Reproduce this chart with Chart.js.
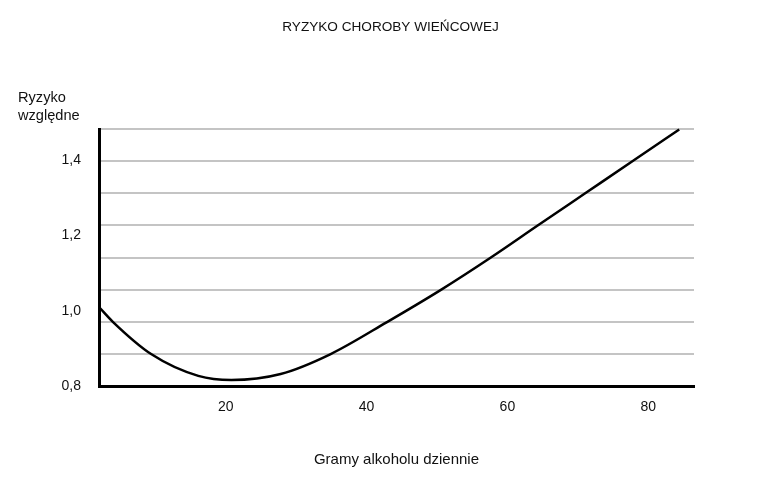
<!DOCTYPE html>
<html>
<head>
<meta charset="utf-8">
<script src="https://cdn.jsdelivr.net/npm/chart.js@4"></script>
<style>
html,body{margin:0;padding:0;background:#fff;}
#wrap{width:763px;height:486px;position:relative;}
</style>
</head>
<body>
<div id="wrap"><canvas id="c"></canvas></div>
<script>
// Data
const alcohol = [2, 4, 9.4, 16.1, 20.8, 27.8, 34.9, 42.9, 50.5, 57.6, 64.4, 71.1, 77.8, 84.4];
const risk    = [1.010, 0.970, 0.885, 0.827, 0.816, 0.832, 0.885, 0.970, 1.055, 1.141, 1.228, 1.313, 1.398, 1.482];
const xTickValues = [20, 40, 60, 80];
const yTickValues = [0.8, 1.0, 1.2, 1.4];
const yTickLabels = ['0,8', '1,0', '1,2', '1,4'];
const gridSteps = 8;

const FONT = 'Liberation Sans, Arial, Helvetica, sans-serif';
const TXT = '#111';

new Chart(document.getElementById('c'), {
  type: 'line',
  data: {
    datasets: [{
      data: alcohol.map((x, i) => ({x: x, y: risk[i]})),
      xAxisID: 'x',
      yAxisID: 'y',
      borderColor: '#000',
      borderWidth: 2.5,
      pointRadius: 0,
      fill: false,
      cubicInterpolationMode: 'monotone',
      clip: false
    }]
  },
  options: {
    responsive: true,
    maintainAspectRatio: false,
    animation: false,
    layout: {padding: {left: 18, right: 0, top: 0, bottom: 17}},
    plugins: {
      legend: {display: false},
      tooltip: {enabled: false},
      title: {
        display: true,
        text: 'RYZYKO CHOROBY WIEŃCOWEJ',
        color: TXT,
        font: {family: FONT, size: 13.6, weight: 'normal', lineHeight: 1.2},
        padding: {top: 19, bottom: 0}
      },
      subtitle: {
        display: true,
        align: 'start',
        text: ['Ryzyko', 'względne'],
        color: TXT,
        font: {family: FONT, size: 14.6, weight: 'normal', lineHeight: 18 / 14.6},
        padding: {top: 53.8, bottom: 4}
      }
    },
    scales: {
      x: {
        type: 'linear',
        position: 'bottom',
        min: 2,
        max: 86.5,
        grid: {display: false, drawTicks: false},
        border: {display: true, color: '#000', width: 3},
        ticks: {color: TXT, font: {family: FONT, size: 14}, padding: 13, maxRotation: 0},
        afterBuildTicks: s => { s.ticks = xTickValues.map(v => ({value: v})); },
        title: {
          display: true,
          text: 'Gramy alkoholu dziennie',
          color: TXT,
          font: {family: FONT, size: 15},
          padding: {top: 0, bottom: 0}
        },
        afterFit: s => { s.height = 83; }
      },
      yGrid: {
        type: 'linear',
        position: 'left',
        min: 0,
        max: gridSteps,
        ticks: {display: false, stepSize: 1},
        grid: {
          drawTicks: false,
          lineWidth: 2,
          color: ctx => (ctx.tick && ctx.tick.value === 0) ? 'rgba(0,0,0,0)' : '#c4c4c4'
        },
        border: {display: false},
        afterFit: s => { s.width = 0; }
      },
      y: {
        type: 'linear',
        position: 'left',
        min: 0.8,
        max: 1.483,
        grid: {display: false, drawTicks: false},
        border: {display: true, color: '#000', width: 3},
        ticks: {
          color: TXT,
          font: {family: FONT, size: 14},
          padding: 18,
          callback: (v) => {
            const i = yTickValues.findIndex(t => Math.abs(t - v) < 1e-6);
            return i >= 0 ? yTickLabels[i] : '';
          }
        },
        afterBuildTicks: s => { s.ticks = yTickValues.map(v => ({value: v})); },
        afterFit: s => { s.width = 81; }
      },
      yR: {
        type: 'linear',
        position: 'right',
        display: true,
        grid: {display: false, drawTicks: false},
        border: {display: false},
        ticks: {display: false},
        afterFit: s => { s.width = 69; }
      }
    }
  }
});
</script>
</body>
</html>
